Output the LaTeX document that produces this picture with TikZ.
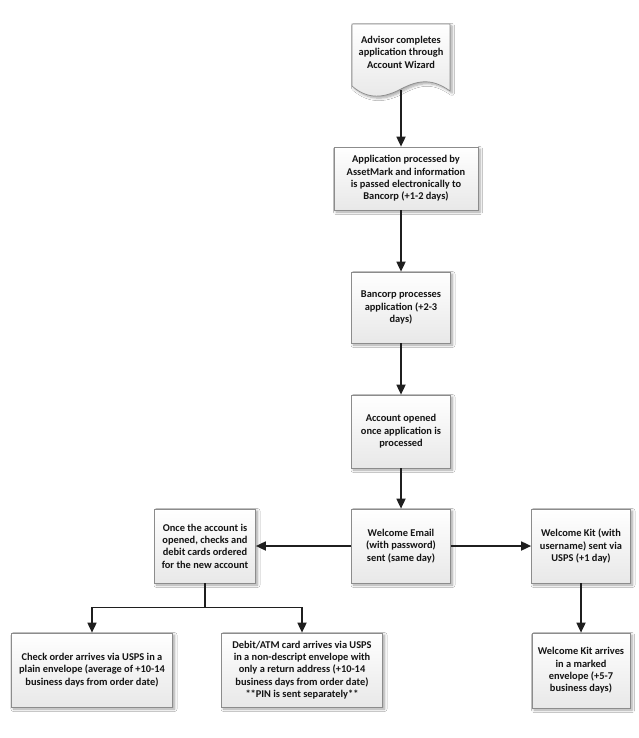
\documentclass[tikz,border=0pt]{standalone}
\usepackage{fontspec}
\setmainfont{Carlito}
\usetikzlibrary{arrows.meta,shadows.blur,calc}
\begin{document}
\begin{tikzpicture}[x=1pt,y=-1pt,
  boxfill/.style={top color=white,bottom color=black!9,draw=black!45,line width=0.7pt,
    blur shadow={shadow xshift=2pt,shadow yshift=-2pt,shadow blur steps=6,shadow blur radius=2.5pt,shadow opacity=35}},
  boxtext/.style={align=center,font=\fontsize{10.4}{12.4}\selectfont\bfseries,text=black!92},
  stepbox/.style={boxfill,boxtext,rectangle,inner sep=0pt},
  conn/.style={draw=black!88,line width=1.7pt,-{Triangle[length=10pt,width=9pt]}},
  plain/.style={draw=black!88,line width=1.7pt}]
\useasboundingbox[fill=white] (0,0) rectangle (638,738);
% document shape
\path[boxfill] (352,24) -- (450,24) -- (450,91)
  .. controls (432,78) and (418,80) .. (401,89)
  .. controls (384,98) and (368,100) .. (352,86) -- cycle;
\node[boxtext] (doc) at (401,52) {Advisor completes\\application through\\Account Wizard};
\coordinate (docb) at (401,90);
\node[stepbox,minimum width=144pt,minimum height=63pt] (b2) at (406,178.5)
  {Application processed by\\AssetMark and information\\is passed electronically to\\Bancorp (+1-2 days)};
\node[stepbox,minimum width=99pt,minimum height=71pt] (b3) at (401,307.5)
  {Bancorp processes\\application (+2-3\\days)};
\node[stepbox,minimum width=99pt,minimum height=73pt] (b4) at (401,431.5)
  {Account opened\\once application is\\processed};
\node[stepbox,minimum width=99pt,minimum height=74pt] (b5) at (401,546)
  {Welcome Email\\(with password)\\sent (same day)};
\node[stepbox,minimum width=101pt,minimum height=74pt] (b6) at (205,546)
  {Once the account is\\opened, checks and\\debit cards ordered\\for the new account};
\node[stepbox,minimum width=99pt,minimum height=74pt] (b7) at (581,546)
  {Welcome Kit (with\\username) sent via\\USPS (+1 day)};
\node[stepbox,minimum width=161pt,minimum height=74pt] (b8) at (92,670)
  {Check order arrives via USPS in a\\plain envelope (average of +10-14\\business days from order date)};
\node[stepbox,minimum width=161pt,minimum height=74pt] (b9) at (302,670)
  {Debit/ATM card arrives via USPS\\in a non-descript envelope with\\only a return address (+10-14\\business days from order date)\\**PIN is sent separately**};
\node[stepbox,minimum width=98pt,minimum height=75pt] (b10) at (581,670.5)
  {Welcome Kit arrives\\in a marked\\envelope (+5-7\\business days)};
% connectors
\draw[conn] (docb) -- (docb |- b2.north);
\draw[conn] (b2.south -| b3.north) -- (b3.north);
\draw[conn] (b3) -- (b4);
\draw[conn] (b4) -- (b5);
\draw[conn] (b5) -- (b6);
\draw[conn] (b5) -- (b7);
\draw[conn] (b7.south -| b10.north) -- (b10.north);
\coordinate (j) at ($(b6.south)+(0,24)$);
\draw[plain] (b6.south) -- (j);
\draw[conn] (j) -| (b8.north);
\draw[conn] (j) -| (b9.north);
\end{tikzpicture}
\end{document}
